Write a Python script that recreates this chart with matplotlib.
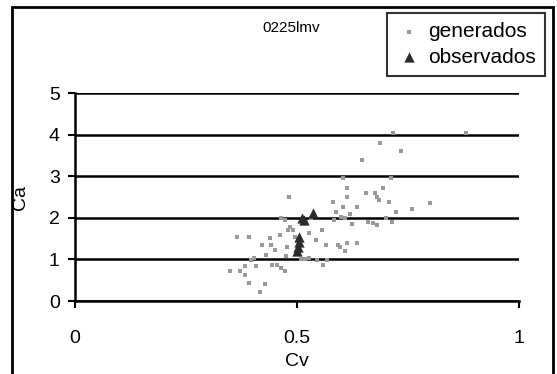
import matplotlib
matplotlib.use("Agg")
import matplotlib.pyplot as plt
from matplotlib.patches import Rectangle

plt.rcParams['font.family'] = ['Liberation Sans', 'DejaVu Sans']

# generados (simulated points)
gen_cv = [0.482, 0.364, 0.392, 0.350, 0.372, 0.384, 0.382, 0.392, 0.396, 0.404,
          0.408, 0.416, 0.428, 0.422, 0.440, 0.442, 0.430, 0.450, 0.444, 0.456,
          0.462, 0.464, 0.472, 0.476, 0.478, 0.480, 0.464, 0.472, 0.484, 0.492,
          0.496, 0.528, 0.532, 0.520, 0.542, 0.556, 0.558, 0.528, 0.544, 0.568,
          0.566, 0.580, 0.588, 0.592, 0.596, 0.604, 0.604, 0.612, 0.612, 0.600,
          0.608, 0.612, 0.608, 0.624, 0.636, 0.636, 0.646, 0.656, 0.660, 0.676,
          0.680, 0.680, 0.684, 0.688, 0.694, 0.700, 0.708, 0.712, 0.714, 0.716,
          0.724, 0.734, 0.758, 0.800, 0.880, 0.672, 0.584, 0.620, 0.508, 0.518]
gen_ca = [2.50, 1.55, 1.55, 0.71, 0.71, 0.63, 0.85, 0.43, 0.99, 1.03,
          0.83, 0.22, 0.41, 1.35, 1.51, 1.35, 1.11, 1.23, 0.87, 0.87,
          1.59, 0.79, 0.71, 1.07, 1.31, 1.71, 1.99, 1.95, 1.79, 1.71,
          1.55, 1.63, 1.99, 1.91, 1.47, 1.71, 0.87, 1.03, 0.99, 0.99,
          1.35, 2.39, 2.15, 1.35, 1.31, 2.95, 2.27, 2.71, 2.51, 2.03,
          1.99, 1.39, 1.19, 1.85, 2.27, 1.39, 3.39, 2.59, 1.91, 2.59,
          2.51, 1.83, 2.43, 3.80, 2.71, 1.99, 2.39, 2.95, 1.91, 4.04,
          2.15, 3.60, 2.21, 2.35, 4.04, 1.87, 1.95, 2.10, 1.01, 1.01]

# observados
obs_cv = [0.512, 0.536, 0.504, 0.504, 0.502, 0.500, 0.516]
obs_ca = [1.99, 2.11, 1.55, 1.43, 1.31, 1.21, 1.95]

W, H = 557, 374
fig = plt.figure(figsize=(W / 100, H / 100), dpi=100)
ax = fig.add_axes([75 / W, 1 - 301 / H, (519 - 75) / W, (301 - 93) / H])

ax.scatter(gen_cv, gen_ca, marker='s', s=5, color='#999999', linewidths=0,
           label='generados', zorder=3)
ax.scatter(obs_cv, obs_ca, marker='^', s=55, color='#2b2b2b', linewidths=0,
           label='observados', zorder=4)

ax.set_xlim(0, 1)
ax.set_ylim(0, 5)
ax.set_xticks([0, 0.5, 1])
ax.set_xticklabels(['0', '0.5', '1'])
ax.set_yticks([0, 1, 2, 3, 4, 5])
ax.yaxis.grid(True, color='black', lw=1.8)
ax.set_axisbelow(True)
for s in ['top', 'right']:
    ax.spines[s].set_visible(False)
for s in ['left', 'bottom']:
    ax.spines[s].set_linewidth(1.8)
    ax.spines[s].set_color('black')
ax.tick_params(axis='both', direction='out', length=5, width=1.5,
               labelsize=14, colors='black')
ax.tick_params(axis='x', pad=16)
ax.tick_params(axis='y', pad=6)
ax.set_xlabel('Cv', fontsize=14, labelpad=4)
ax.set_ylabel('Ca', fontsize=14, labelpad=14)

fig.text(291 / W, 1 - 28 / H, '0225lmv', fontsize=11, ha='center', va='center')

leg = ax.legend(loc='upper right', bbox_to_anchor=(545 / W, 1 - 13 / H),
                bbox_transform=fig.transFigure, fontsize=15, frameon=True,
                fancybox=False, handletextpad=0.3, handlelength=1.2,
                borderpad=0.45, labelspacing=0.3, borderaxespad=0)
leg.get_frame().set_edgecolor('black')
leg.get_frame().set_linewidth(1.5)
leg.legend_handles[0].set_sizes([12])

# outer frame of the chart area
fig.patches.append(Rectangle((12 / W, -0.05), (553 - 12) / W, 1.05 - 7 / H,
                             transform=fig.transFigure, fill=False,
                             edgecolor='black', lw=2))

fig.savefig('out.png', dpi=100)
